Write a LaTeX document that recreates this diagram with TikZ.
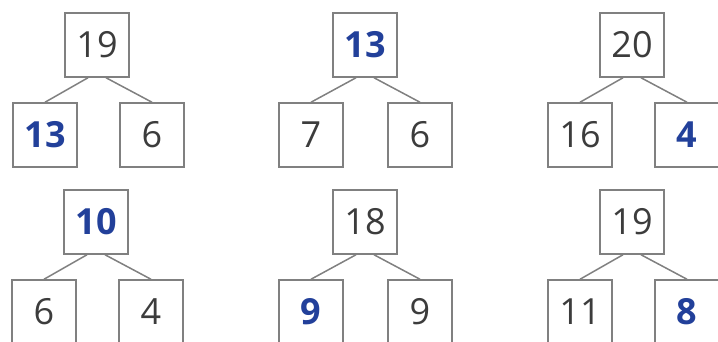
\documentclass[tikz,border=0pt]{standalone}
\usepackage{fontspec}
\setmainfont{Open Sans}
\usepackage{xcolor}
\usepackage{tikz}
\usetikzlibrary{positioning}

\definecolor{boxgray}{HTML}{808080}
\definecolor{numgray}{HTML}{3C3C3C}
\definecolor{numblue}{HTML}{22409A}

\begin{document}
\begin{tikzpicture}[
  x=0.5pt, y=-0.5pt,
  every node/.style={rectangle, draw=boxgray, line width=0.75pt, minimum size=32pt,
    inner sep=0pt, fill=white, text=numgray, font=\fontsize{18}{18}\selectfont},
  hl/.style={text=numblue, font=\fontsize{18}{18}\selectfont\bfseries},
  every path/.style={draw=boxgray, line width=0.75pt},
]
  \useasboundingbox[draw=none] (0,0) rectangle (718,342);

  % Nodes
  \node (a)  at (97, 45)  {19};
  \node[hl] (a1) at (45, 135) {13};
  \node (a2) at (152, 135) {6};

  \node[hl] (b)  at (365, 45)  {13};
  \node (b1) at (311, 135) {7};
  \node (b2) at (420, 135) {6};

  \node (c)  at (632, 45)  {20};
  \node (c1) at (580, 135) {16};
  \node[hl] (c2) at (687, 135) {4};

  \node[hl] (d)  at (96, 222)  {10};
  \node (d1) at (44, 312) {6};
  \node (d2) at (151, 312) {4};

  \node (e)  at (365, 222)  {18};
  \node[hl] (e1) at (311, 312) {9};
  \node (e2) at (420, 312) {9};

  \node (f)  at (632, 222)  {19};
  \node (f1) at (580, 312) {11};
  \node[hl] (f2) at (687, 312) {8};

  % Edges
  \draw ([xshift=-4.5pt]a.south) -- (a1.north);
  \draw ([xshift=4.5pt]a.south) -- (a2.north);
  \draw ([xshift=-4.5pt]b.south) -- (b1.north);
  \draw ([xshift=4.5pt]b.south) -- (b2.north);
  \draw ([xshift=-4.5pt]c.south) -- (c1.north);
  \draw ([xshift=4.5pt]c.south) -- (c2.north);
  \draw ([xshift=-4.5pt]d.south) -- (d1.north);
  \draw ([xshift=4.5pt]d.south) -- (d2.north);
  \draw ([xshift=-4.5pt]e.south) -- (e1.north);
  \draw ([xshift=4.5pt]e.south) -- (e2.north);
  \draw ([xshift=-4.5pt]f.south) -- (f1.north);
  \draw ([xshift=4.5pt]f.south) -- (f2.north);

\end{tikzpicture}
\end{document}
